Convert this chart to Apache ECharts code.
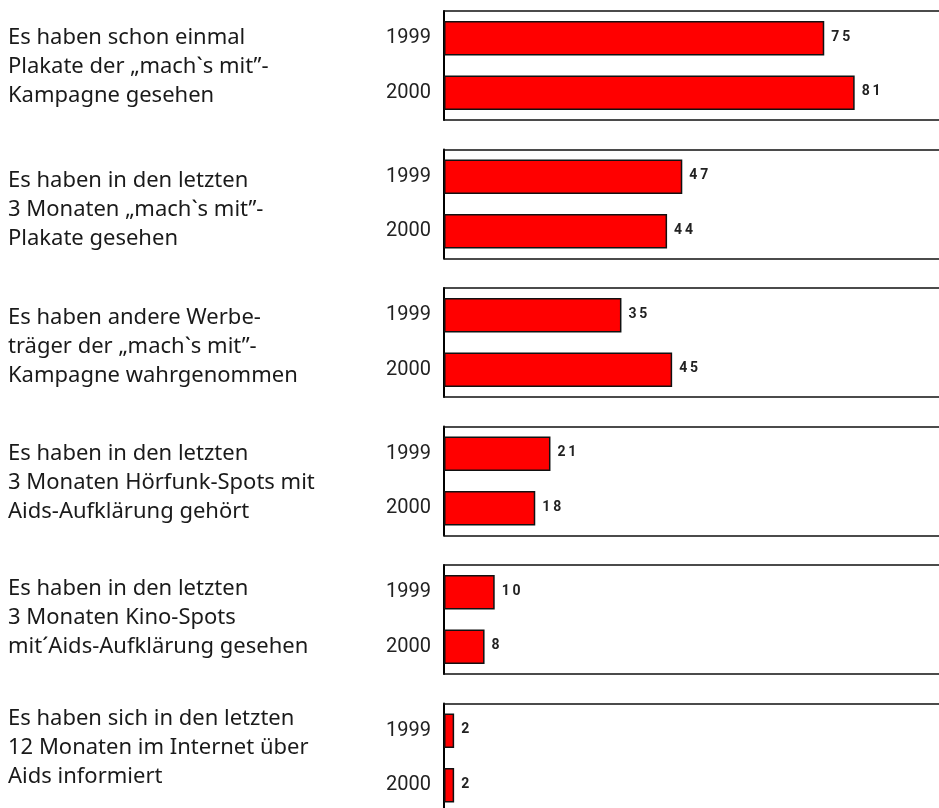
<!DOCTYPE html>
<html>
<head>
    <meta charset="utf-8">
    <title></title>
    <style type="text/css">
        html, body { margin: 0; padding: 0; background: #fff; }
        #main { width: 939px; height: 808px; }
    </style>
</head>
<body>
    <div id="main"></div>
</body>
<script src="https://cdn.jsdelivr.net/npm/echarts@6/dist/echarts.min.js"></script>
<script type="text/javascript">
    // Jahre (Kategorien)
    var years = ['1999', '2000'];

    // Fragen links
    var questions = [
        'Es haben schon einmal\nPlakate der \u201Emach`s mit\u201D-\nKampagne gesehen',
        'Es haben in den letzten\n3 Monaten \u201Emach`s mit\u201D-\nPlakate gesehen',
        'Es haben andere Werbe-\ntr\u00e4ger der \u201Emach`s mit\u201D-\nKampagne wahrgenommen',
        'Es haben in den letzten\n3 Monaten H\u00f6rfunk-Spots mit\nAids-Aufkl\u00e4rung geh\u00f6rt',
        'Es haben in den letzten\n3 Monaten Kino-Spots\nmit\u00b4Aids-Aufkl\u00e4rung gesehen',
        'Es haben sich in den letzten\n12 Monaten im Internet \u00fcber\nAids informiert'
    ];

    // Werte 1999 / 2000
    var values1999 = [75, 47, 35, 21, 10, 2];
    var values2000 = [81, 44, 45, 18, 8, 2];

    // Layout
    var panelTop = [11, 149.5, 288, 426.5, 565, 703.5];
    var textTop = [23, 166, 303, 439, 574, 704];
    var panelHeight = 109;

    var grids = [], xAxes = [], yAxes = [], series = [], graphics = [];
    for (var i = 0; i < questions.length; i++) {
        grids.push({
            left: 444,
            top: panelTop[i],
            width: 507,
            height: panelHeight,
            outerBoundsMode: 'none'
        });
        // unten und oben je eine Linie, rechts offen
        ['bottom', 'top'].forEach(function (pos) {
            xAxes.push({
                gridIndex: i,
                type: 'value',
                position: pos,
                min: 0,
                max: 100,
                axisLine: { show: true, lineStyle: { color: '#111', width: 1.5 } },
                axisTick: { show: false },
                axisLabel: { show: false },
                splitLine: { show: false }
            });
        });
        yAxes.push({
            gridIndex: i,
            type: 'category',
            data: years,
            inverse: true,
            axisLine: { show: true, lineStyle: { color: '#000', width: 2 } },
            axisTick: { show: false },
            axisLabel: {
                margin: 13,
                fontSize: 20,
                color: '#222',
                fontFamily: 'Roboto'
            }
        });
        series.push({
            type: 'bar',
            xAxisIndex: i * 2,
            yAxisIndex: i,
            data: [values1999[i], values2000[i]],
            barCategoryGap: '37%',
            itemStyle: { color: '#ff0000', borderColor: '#111', borderWidth: 1.5 },
            label: {
                show: true,
                position: 'right',
                distance: 7,
                offset: [0, -1],
                fontSize: 14,
                fontWeight: 'bold',
                color: '#222',
                fontFamily: 'Roboto',
                formatter: function (p) {
                    return String(p.value).split('').join('\u2009');
                }
            }
        });
        graphics.push({
            type: 'text',
            left: 8,
            top: textTop[i],
            style: {
                text: questions[i],
                font: '22px "Noto Sans"',
                lineHeight: 29,
                fill: '#1a1a1a'
            }
        });
    }

    var option = {
        backgroundColor: '#FFFFFF',
        animation: false,
        grid: grids,
        xAxis: xAxes,
        yAxis: yAxes,
        series: series,
        graphic: graphics
    };
    var myChart = echarts.init(document.getElementById('main'));
    myChart.setOption(option);
</script>
</html>
